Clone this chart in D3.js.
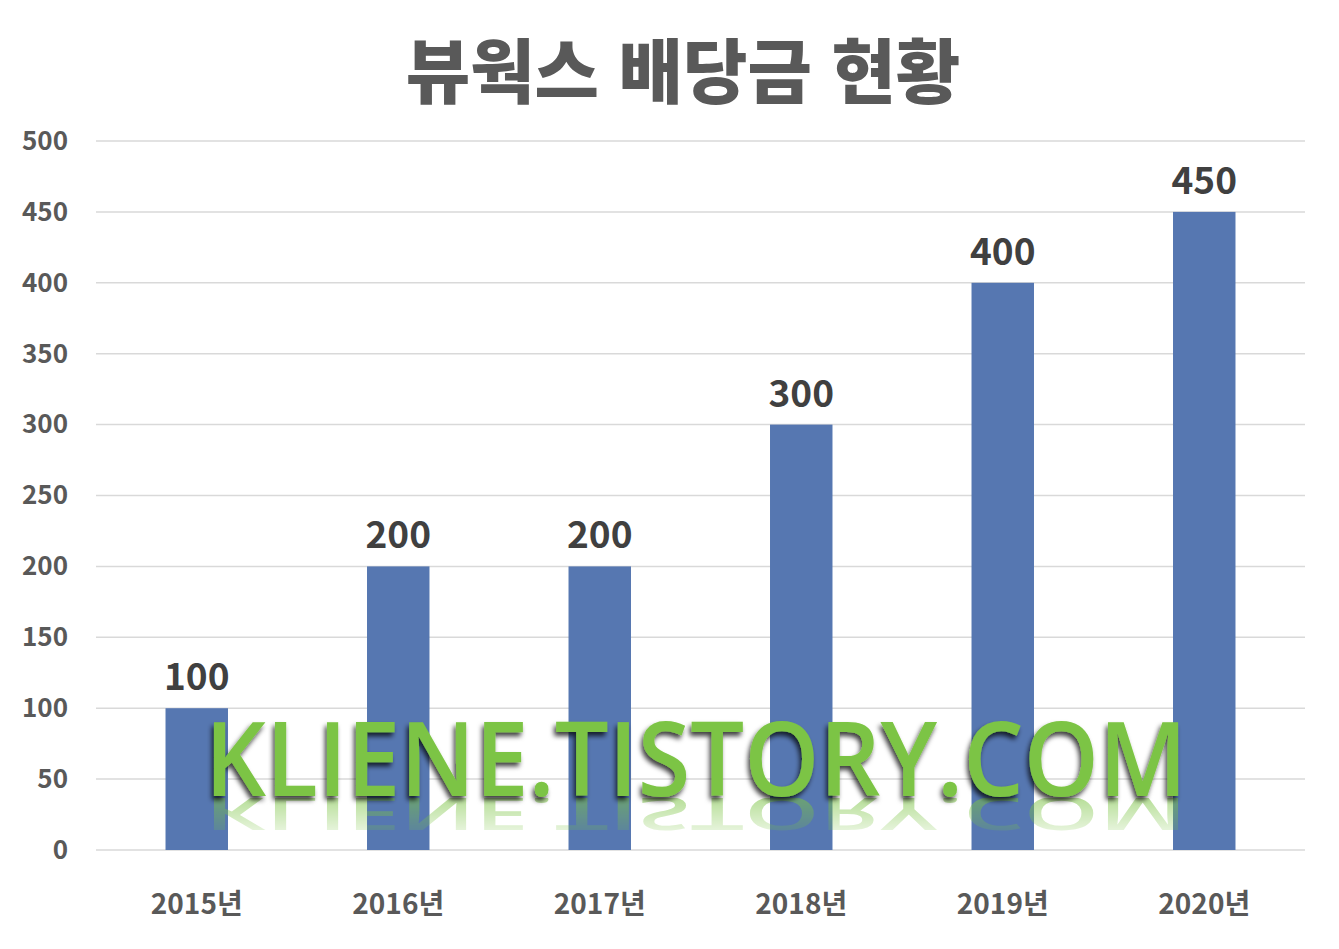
<!DOCTYPE html>
<html lang="ko">
<head>
<meta charset="UTF-8">
<title>뷰웍스 배당금 현황</title>
<style>
    body { margin: 0; background: #fff; }
    svg text { font-family: "Noto Sans CJK KR", "Open Sans", sans-serif; }
</style>
</head>
<body>
<script src="https://d3js.org/d3.v7.min.js"></script>
<script>
    const years = ["2015년", "2016년", "2017년", "2018년", "2019년", "2020년"];
    const dividends = [100, 200, 200, 300, 400, 450];
    const yTicks = [0, 50, 100, 150, 200, 250, 300, 350, 400, 450, 500];
    const title = "뷰웍스 배당금 현황";
    const watermark = "KLIENE.TISTORY.COM";

    const width = 1339, height = 949;
    const svg = d3.select("body").append("svg")
        .attr("width", width)
        .attr("height", height);

    const plotLeft = 96, plotRight = 1305, plotTop = 141, plotBottom = 850;

    const x = d3.scaleBand()
        .domain(years)
        .range([plotLeft, plotRight])
        .paddingInner(0.69)
        .paddingOuter(0.345);

    const y = d3.scaleLinear()
        .domain([0, 500])
        .range([plotBottom, plotTop]);

    // Title
    svg.append("text")
        .attr("x", 683)
        .attr("y", 98)
        .attr("text-anchor", "middle")
        .attr("font-size", 70)
        .attr("font-weight", 900)
        .attr("fill", "#595959")
        .text(title);

    // Grid lines
    svg.append("g")
        .selectAll("line")
        .data(yTicks)
        .join("line")
        .attr("x1", plotLeft)
        .attr("x2", plotRight)
        .attr("y1", d => y(d))
        .attr("y2", d => y(d))
        .attr("stroke", "#d9d9d9")
        .attr("stroke-width", 1.5);

    // Y axis labels
    const yAxis = svg.append("g")
        .attr("transform", `translate(68,0)`)
        .call(d3.axisLeft(y).tickValues(yTicks).tickSize(0).tickPadding(0));
    yAxis.select(".domain").remove();
    yAxis.selectAll("text")
        .attr("font-size", 26)
        .attr("font-weight", 700)
        .attr("fill", "#595959")
        .attr("font-family", "\"Noto Sans CJK KR\", sans-serif");

    // Bars
    svg.append("g")
        .selectAll("rect")
        .data(dividends)
        .join("rect")
        .attr("x", (d, i) => x(years[i]))
        .attr("y", d => y(d))
        .attr("width", x.bandwidth())
        .attr("height", d => y(0) - y(d))
        .attr("fill", "#5677b1");

    // Data labels
    svg.append("g")
        .selectAll("text")
        .data(dividends)
        .join("text")
        .attr("x", (d, i) => x(years[i]) + x.bandwidth() / 2)
        .attr("y", d => y(d) - 18)
        .attr("text-anchor", "middle")
        .attr("font-size", 37)
        .attr("font-weight", 700)
        .attr("fill", "#404040")
        .text(d => d);

    // X axis labels
    const xAxis = svg.append("g")
        .attr("transform", `translate(0,${plotBottom + 44})`)
        .call(d3.axisBottom(x).tickSize(0).tickPadding(0));
    xAxis.select(".domain").remove();
    xAxis.selectAll("text")
        .attr("font-size", 28)
        .attr("font-weight", 700)
        .attr("fill", "#595959")
        .attr("font-family", "\"Noto Sans CJK KR\", sans-serif");

    // Watermark with shadow and reflection
    const defs = svg.append("defs");
    const shadow = defs.append("filter").attr("id", "shadow")
        .attr("x", "-5%").attr("y", "-20%").attr("width", "110%").attr("height", "150%");
    shadow.append("feDropShadow")
        .attr("dx", -2).attr("dy", 4).attr("stdDeviation", 2.5)
        .attr("flood-color", "#000").attr("flood-opacity", 0.75);

    const fade = defs.append("linearGradient").attr("id", "fade")
        .attr("x1", 0).attr("y1", 0).attr("x2", 0).attr("y2", 1);
    fade.append("stop").attr("offset", "0%").attr("stop-color", "#fff").attr("stop-opacity", 0.55);
    fade.append("stop").attr("offset", "100%").attr("stop-color", "#fff").attr("stop-opacity", 0);
    const mask = defs.append("mask").attr("id", "reflmask")
        .attr("maskUnits", "userSpaceOnUse")
        .attr("x", 0).attr("y", 798).attr("width", width).attr("height", 50);
    mask.append("rect").attr("x", 0).attr("y", 798).attr("width", width).attr("height", 50)
        .attr("fill", "url(#fade)");

    const wmX = 205, wmBase = 796, wmLen = 982, wmSize = 104;

    svg.append("g")
        .attr("mask", "url(#reflmask)")
        .append("text")
        .attr("transform", `translate(0,${wmBase * 1.45}) scale(1,-0.45)`)
        .attr("x", wmX)
        .attr("y", wmBase)
        .attr("font-size", wmSize)
        .attr("font-weight", 600)
        .attr("textLength", wmLen)
        .attr("lengthAdjust", "spacingAndGlyphs")
        .attr("fill", "#7cc444")
        .style("font-family", "\"Open Sans\", sans-serif")
        .text(watermark);

    svg.append("text")
        .attr("x", wmX)
        .attr("y", wmBase)
        .attr("font-size", wmSize)
        .attr("font-weight", 600)
        .attr("textLength", wmLen)
        .attr("lengthAdjust", "spacingAndGlyphs")
        .attr("fill", "#7cc444")
        .attr("filter", "url(#shadow)")
        .style("font-family", "\"Open Sans\", sans-serif")
        .text(watermark);
</script>
</body>
</html>
